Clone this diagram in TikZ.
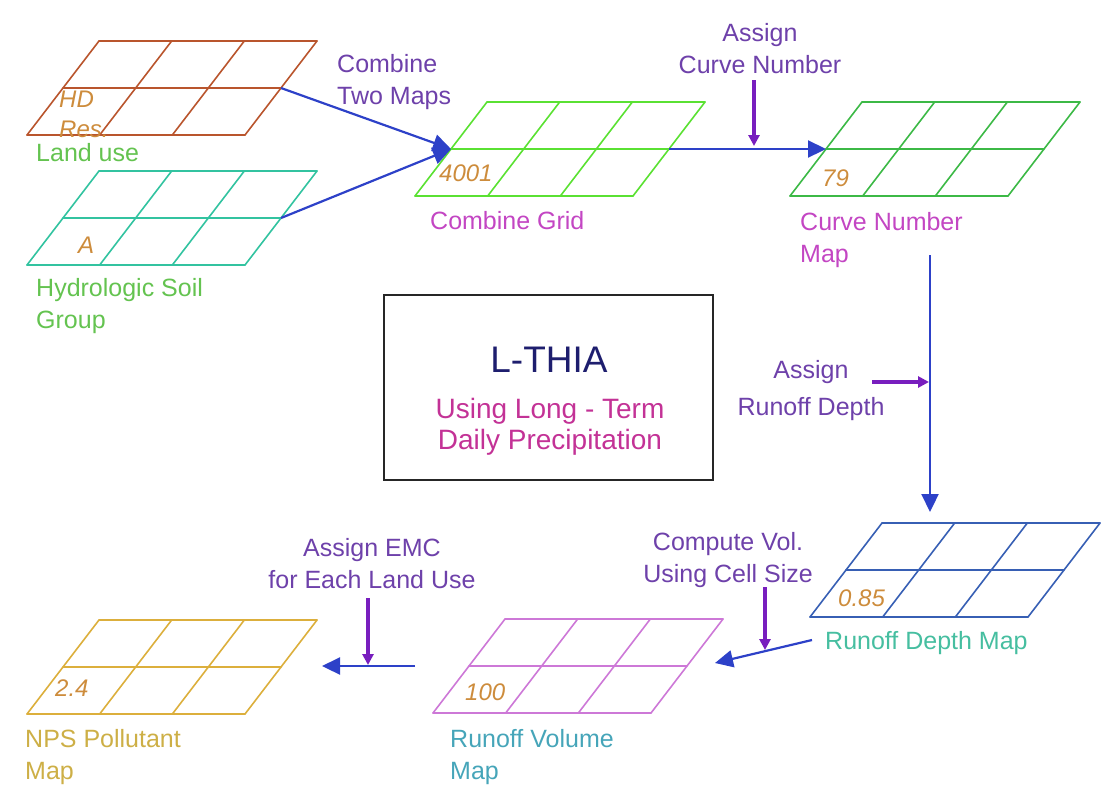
\documentclass[tikz,border=0pt]{standalone}
\usepackage{fontspec}
\setmainfont{Liberation Sans}
\usetikzlibrary{arrows.meta}

\definecolor{luc}{RGB}{185,85,45}
\definecolor{hsc}{RGB}{50,195,160}
\definecolor{cgc}{RGB}{90,225,50}
\definecolor{cnc}{RGB}{60,185,70}
\definecolor{rdc}{RGB}{55,95,180}
\definecolor{rvc}{RGB}{205,120,215}
\definecolor{npsc}{RGB}{220,175,60}
\definecolor{cellc}{RGB}{205,140,60}
\definecolor{inputc}{RGB}{100,195,80}
\definecolor{magc}{RGB}{195,70,195}
\definecolor{taskc}{RGB}{110,65,170}
\definecolor{rdlabc}{RGB}{70,190,160}
\definecolor{rvlabc}{RGB}{70,165,185}
\definecolor{npslabc}{RGB}{205,175,70}
\definecolor{flowc}{RGB}{45,65,200}
\definecolor{arrc}{RGB}{120,30,190}
\definecolor{titlec}{RGB}{30,30,110}
\definecolor{subtc}{RGB}{195,50,150}

% name, lower left corner x, y, colour
\newcommand{\mapgrid}[4]{%
\begin{scope}[shift={(#2,#3)}]
\foreach \h in {0,47,94} \draw[#4, line width=1.6pt, line cap=round] ({\h*72/94},-\h) -- ++(218,0);
\foreach \c in {0,72.67,145.33,218} \draw[#4, line width=1.6pt, line cap=round] (\c,0) -- ++(72,-94);
\coordinate (#1-l) at (36,-47);
\coordinate (#1-r) at (254,-47);
\end{scope}}

\begin{document}
\begin{tikzpicture}[x=1pt,y=-1pt,
  lbl/.style={font=\fontsize{25}{32}\selectfont, inner sep=0pt},
  celltxt/.style={font=\fontsize{24}{30}\selectfont\itshape, text=cellc, inner sep=0pt},
  flow/.style={draw=flowc, line width=2.2pt, -{Triangle[length=18pt,width=17pt]}},
  task/.style={draw=arrc, line width=4pt, -{Triangle[length=11pt,width=11pt]}}]
\useasboundingbox (0,0) rectangle (1107,785);

\mapgrid{lu}{27}{135}{luc}
\mapgrid{hs}{27}{265}{hsc}
\mapgrid{cg}{415}{196}{cgc}
\mapgrid{cn}{790}{196}{cnc}
\mapgrid{rd}{810}{617}{rdc}
\mapgrid{rv}{433}{713}{rvc}
\mapgrid{nps}{27}{714}{npsc}

\node[celltxt, anchor=west, align=left] (hd) at (59,114) {HD\\Res.};
\node[celltxt, anchor=west] (asoil) at (78,245) {A};
\node[celltxt, anchor=west] (v4001) at (439,173) {4001};
\node[celltxt, anchor=west] (v79) at (822,178) {79};
\node[celltxt, anchor=west] (v085) at (838,598) {0.85};
\node[celltxt, anchor=west] (v100) at (465,692) {100};
\node[celltxt, anchor=west] (v24) at (55,688) {2.4};

\node[lbl, text=inputc, anchor=west] (lulab) at (36,153) {Land use};
\node[lbl, text=inputc, anchor=west, align=left] (hslab) at (36,306) {Hydrologic Soil\\Group};
\node[lbl, text=magc, anchor=west] (cglab) at (430,221) {Combine Grid};
\node[lbl, text=magc, anchor=west, align=left] (cnlab) at (800,240) {Curve Number\\Map};
\node[lbl, text=rdlabc, anchor=west] (rdlab) at (825,643) {Runoff Depth Map};
\node[lbl, text=rvlabc, anchor=west, align=left] (rvlab) at (450,757) {Runoff Volume\\Map};
\node[lbl, text=npslabc, anchor=west, align=left] (npslab) at (25,757) {NPS Pollutant\\Map};

\node[lbl, text=taskc, anchor=west, align=left] (cmbstep) at (337,82) {Combine\\Two Maps};
\node[lbl, text=taskc, align=center] (cnstep) at (760,49) {Assign\\Curve Number};
\node[lbl, text=taskc, align=center] (rdstep) at (811,391) {Assign\\[5pt]Runoff Depth};
\node[lbl, text=taskc, align=center] (rvstep) at (728,560) {Compute Vol.\\Using Cell Size};
\node[lbl, text=taskc, align=center] (npsstep) at (372,564) {Assign EMC\\for Each Land Use};

\node[draw=black!85, line width=1.6pt, minimum width=329pt, minimum height=185pt] (frame) at (548.5,387.5) {};
\node[inner sep=0pt, text=titlec, font=\fontsize{37}{40}\selectfont] (title) at (549,360) {L-THIA};
\node[inner sep=0pt, text=subtc, align=center, font=\fontsize{28}{31}\selectfont] (subtitle) at (550,427) {Using Long - Term\\Daily Precipitation};

\coordinate (cn-out) at (930,255);
\coordinate (rd-in) at (930,512);
\coordinate (rd-out) at (812,640);
\coordinate (rv-in) at (715,663);
\coordinate (rv-out) at (415,666);
\coordinate (nps-in) at (322,666);

\draw[flow] (lu-r) -- (cg-l);
\draw[flow] (hs-r) -- (cg-l);
\draw[flow] (cg-r) -- (cn-l);
\draw[flow] (cn-out) -- (rd-in);
\draw[flow] (rd-out) -- (rv-in);
\draw[flow] (rv-out) -- (nps-in);

\coordinate (cn-a) at (754,80);
\coordinate (cn-b) at (754,146);
\coordinate (rd-a) at (872,382);
\coordinate (rd-b) at (929,382);
\coordinate (rv-a) at (765,587);
\coordinate (rv-b) at (765,650);
\coordinate (nps-a) at (368,598);
\coordinate (nps-b) at (368,665);

\draw[task] (cn-a) -- (cn-b);
\draw[task] (rd-a) -- (rd-b);
\draw[task] (rv-a) -- (rv-b);
\draw[task] (nps-a) -- (nps-b);
\end{tikzpicture}
\end{document}
